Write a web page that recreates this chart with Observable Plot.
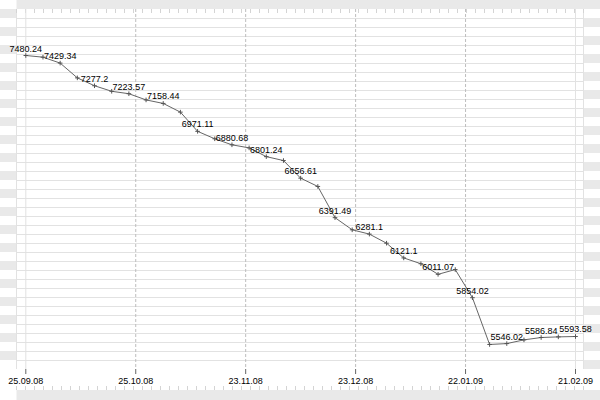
<!DOCTYPE html>
<html>
<head>
<meta charset="utf-8">
<script src="https://cdn.jsdelivr.net/npm/d3@7"></script>
<script src="https://cdn.jsdelivr.net/npm/@observablehq/plot@0.6"></script>
<style>
  html, body { margin: 0; padding: 0; background: #fff; }
  #wrap { position: relative; width: 600px; height: 400px; }
  #wrap svg { position: absolute; left: 0; top: 0; }
</style>
</head>
<body>
<div id="wrap"></div>
<script>
// Series values, one per observation (evenly spaced in time)
const values = [7480.24, 7469, 7429.34, 7330, 7277.2, 7240, 7223.57, 7182, 7158.44, 7100,
  6971.11, 6921, 6880.68, 6860, 6801.24, 6775, 6656.61, 6601, 6391.49, 6310,
  6281.1, 6220, 6121.1, 6082, 6011.07, 6043, 5854.02, 5540, 5546.02, 5571,
  5586.84, 5591, 5593.58];
// Axis ticks (in observation-index units) and their labels
const tickPos = [0, 6.4, 12.8, 19.2, 25.6, 32];
const tickLabels = ["25.09.08", "25.10.08", "23.11.08", "23.12.08", "22.01.09", "21.02.09"];

const data = values.map((v, i) => ({i, v}));
const labelled = data.filter(d => d.i % 2 === 0);

const W = 600, H = 400;
const band = "#e9e9e9", grid = "#e2e2e2";

// Decorative ruled background (frame, bands, ruler ticks)
const bg = d3.create("svg").attr("width", W).attr("height", H);
bg.append("rect").attr("x", 16.5).attr("y", 0).attr("width", W - 16.5).attr("height", 9).attr("fill", band);
bg.append("rect").attr("x", 16.5).attr("y", 390).attr("width", W - 16.5).attr("height", 10).attr("fill", band);
for (let m = 0; m < 20; m++) {
  bg.append("rect").attr("x", 0).attr("y", 9 + 18 * m).attr("width", 16).attr("height", 9).attr("fill", band);
  bg.append("rect").attr("x", 584).attr("y", 18 + 18 * m).attr("width", 16).attr("height", 9).attr("fill", band);
}
for (let k = 0; k <= 38; k++) {
  bg.append("line").attr("x1", 16.5).attr("x2", 583.5).attr("y1", 18.5 + 9 * k).attr("y2", 18.5 + 9 * k)
    .attr("stroke", grid);
}
for (const x of [16.5, 583.5]) {
  bg.append("line").attr("x1", x).attr("x2", x).attr("y1", 9).attr("y2", 369).attr("stroke", grid);
}
for (let x = 16.5; x <= 584; x += 9) {
  bg.append("line").attr("x1", x).attr("x2", x).attr("y1", 9).attr("y2", 13).attr("stroke", "#d4d4d4");
  bg.append("line").attr("x1", x).attr("x2", x).attr("y1", 386).attr("y2", 390).attr("stroke", "#d4d4d4");
}
document.getElementById("wrap").append(bg.node());

const chart = Plot.plot({
  width: W,
  height: H,
  marginLeft: 25.3,
  marginRight: 25,
  marginTop: 9,
  marginBottom: 31,
  style: {background: "transparent", fontFamily: "'Liberation Sans', Arial, sans-serif", fontSize: "9px", color: "#000"},
  x: {domain: [0, 32]},
  y: {domain: [5372, 7789.1], axis: null},
  marks: [
    Plot.ruleX([tickPos[0], tickPos[tickPos.length - 1]], {stroke: grid}),
    Plot.ruleX(tickPos.slice(1, -1), {stroke: "#bdbdbd", strokeDasharray: "3,2"}),
    Plot.axisX({
      ticks: tickPos,
      tickFormat: d => tickLabels[tickPos.indexOf(d)],
      tickSize: 5,
      tickPadding: 3,
      stroke: "#666",
      fill: "#000",
      fontSize: 9,
      label: null
    }),
    Plot.line(data, {x: "i", y: "v", stroke: "#666", strokeWidth: 1}),
    Plot.dot(data, {x: "i", y: "v", symbol: "plus", r: 1.6, stroke: "#555", strokeWidth: 1}),
    Plot.text(labelled, {x: "i", y: "v", text: d => String(d.v), dy: -4, lineAnchor: "bottom",
      fill: "#000", fontSize: 9})
  ]
});
document.getElementById("wrap").append(chart);
</script>
</body>
</html>
